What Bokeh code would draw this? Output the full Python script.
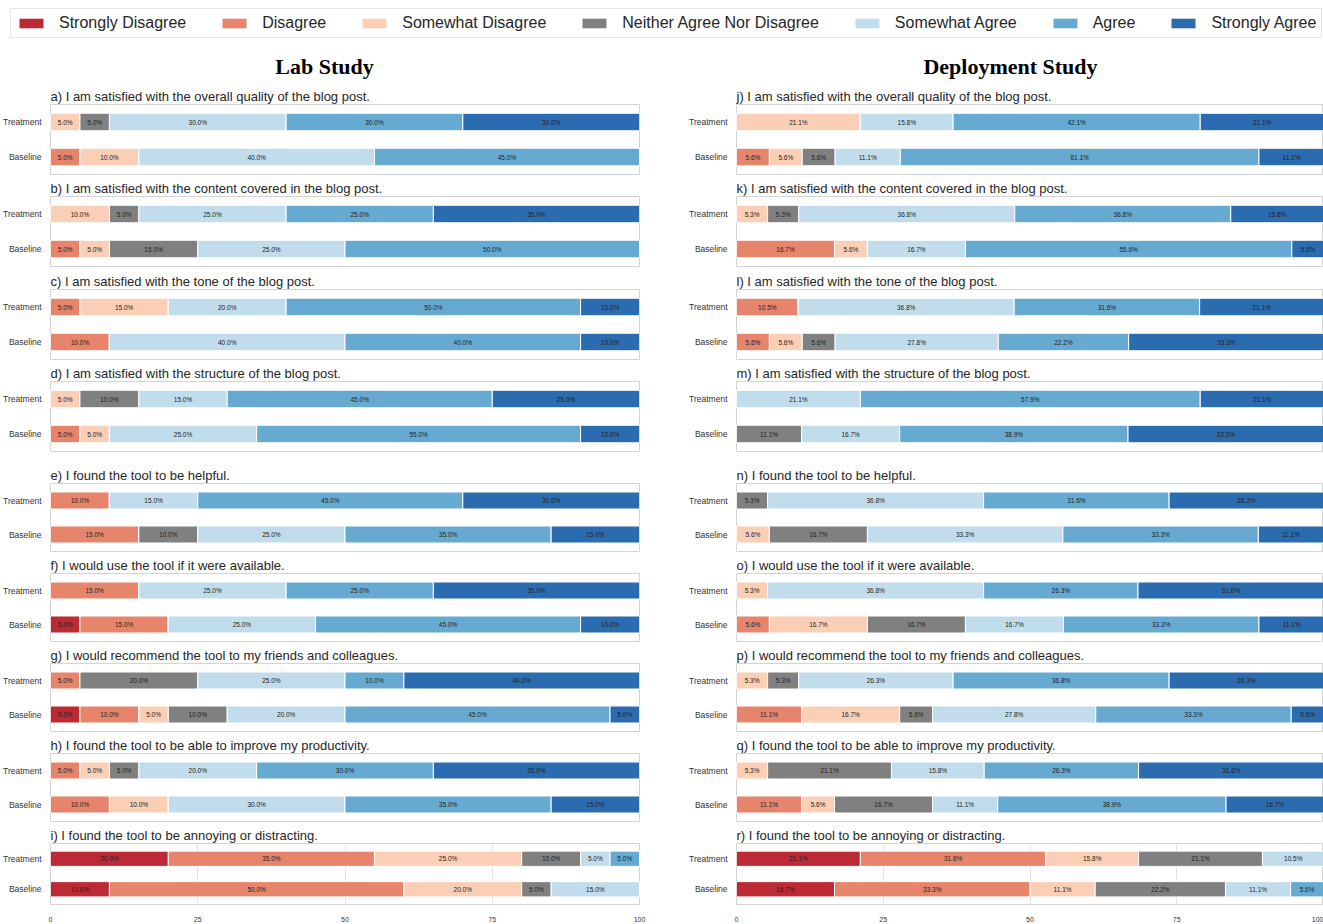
from bokeh.plotting import figure
from bokeh.models import ColumnDataSource, Range1d, FactorRange, FixedTicker, Legend, LegendItem
from bokeh.layouts import column, row
from bokeh.embed import file_html
from bokeh.resources import INLINE
from bokeh.core.properties import value

# ---------------- data ----------------
categories = ["Strongly Disagree", "Disagree", "Somewhat Disagree",
              "Neither Agree Nor Disagree", "Somewhat Agree", "Agree", "Strongly Agree"]
colors = ["#bc2a35", "#e6856b", "#fbceb6", "#808080", "#c1ddeb", "#66aad2", "#2b6cb0"]
groups = ["Treatment", "Baseline"]
x_ticks = [0, 25, 50, 75, 100]
study_titles = ["Lab Study", "Deployment Study"]

lab_questions = [
    "a) I am satisfied with the overall quality of the blog post.",
    "b) I am satisfied with the content covered in the blog post.",
    "c) I am satisfied with the tone of the blog post.",
    "d) I am satisfied with the structure of the blog post.",
    "e) I found the tool to be helpful.",
    "f) I would use the tool if it were available.",
    "g) I would recommend the tool to my friends and colleagues.",
    "h) I found the tool to be able to improve my productivity.",
    "i) I found the tool to be annoying or distracting.",
]
lab_treatment = [
    [0, 0, 5, 5, 30, 30, 30],
    [0, 0, 10, 5, 25, 25, 35],
    [0, 5, 15, 0, 20, 50, 10],
    [0, 0, 5, 10, 15, 45, 25],
    [0, 10, 0, 0, 15, 45, 30],
    [0, 15, 0, 0, 25, 25, 35],
    [0, 5, 0, 20, 25, 10, 40],
    [0, 5, 5, 5, 20, 30, 35],
    [20, 35, 25, 10, 5, 5, 0],
]
lab_baseline = [
    [0, 5, 10, 0, 40, 45, 0],
    [0, 5, 5, 15, 25, 50, 0],
    [0, 10, 0, 0, 40, 40, 10],
    [0, 5, 5, 0, 25, 55, 10],
    [0, 15, 0, 10, 25, 35, 15],
    [5, 15, 0, 0, 25, 45, 10],
    [5, 10, 5, 10, 20, 45, 5],
    [0, 10, 10, 0, 30, 35, 15],
    [10, 50, 20, 5, 15, 0, 0],
]

dep_questions = [
    "j) I am satisfied with the overall quality of the blog post.",
    "k) I am satisfied with the content covered in the blog post.",
    "l) I am satisfied with the tone of the blog post.",
    "m) I am satisfied with the structure of the blog post.",
    "n) I found the tool to be helpful.",
    "o) I would use the tool if it were available.",
    "p) I would recommend the tool to my friends and colleagues.",
    "q) I found the tool to be able to improve my productivity.",
    "r) I found the tool to be annoying or distracting.",
]
dep_treatment = [
    [0, 0, 21.1, 0, 15.8, 42.1, 21.1],
    [0, 0, 5.3, 5.3, 36.8, 36.8, 15.8],
    [0, 10.5, 0, 0, 36.8, 31.6, 21.1],
    [0, 0, 0, 0, 21.1, 57.9, 21.1],
    [0, 0, 0, 5.3, 36.8, 31.6, 26.3],
    [0, 0, 5.3, 0, 36.8, 26.3, 31.6],
    [0, 0, 5.3, 5.3, 26.3, 36.8, 26.3],
    [0, 0, 5.3, 21.1, 15.8, 26.3, 31.6],
    [21.1, 31.6, 15.8, 21.1, 10.5, 0, 0],
]
dep_baseline = [
    [0, 5.6, 5.6, 5.6, 11.1, 61.1, 11.1],
    [0, 16.7, 5.6, 0, 16.7, 55.6, 5.6],
    [0, 5.6, 5.6, 5.6, 27.8, 22.2, 33.3],
    [0, 0, 0, 11.1, 16.7, 38.9, 33.3],
    [0, 0, 5.6, 16.7, 33.3, 33.3, 11.1],
    [0, 5.6, 16.7, 16.7, 16.7, 33.3, 11.1],
    [0, 11.1, 16.7, 5.6, 27.8, 33.3, 5.6],
    [0, 11.1, 5.6, 16.7, 11.1, 38.9, 16.7],
    [16.7, 33.3, 11.1, 22.2, 11.1, 5.6, 0],
]

# ---------------- layout constants ----------------
FONT = "Liberation Sans"
TOTAL_W = 1323
HEADER_H = 84
row_heights = [92, 93, 92, 102, 90, 90, 90, 90, 101]
frame_heights = [70, 70, 70, 70, 68, 68, 68, 68, 68]
TOP = 20
LEFT_W = 668
RIGHT_W = TOTAL_W - LEFT_W
left_border_right = [23, 23, 23, 23, 29, 29, 29, 29, 29]


def make_panel(title, treat, base, width, height, bl, br, bb, axis):
    keys = [f"c{k}" for k in range(len(categories))]
    data = {"group": groups}
    for k, key in enumerate(keys):
        data[key] = [treat[k], base[k]]
    src = ColumnDataSource(data)

    p = figure(width=width, height=height, title=title,
               x_range=Range1d(0, 100),
               y_range=FactorRange(factors=["Baseline", "Treatment"]),
               x_axis_location="below" if axis else None,
               output_backend="svg", toolbar_location=None,
               min_border_left=bl, min_border_right=br,
               min_border_top=TOP, min_border_bottom=bb)
    p.hbar_stack(keys, y="group", height=0.5, fill_color=colors,
                 line_color="white", line_width=1, source=src)

    lx, ly, lt = [], [], []
    for g, vals in zip(groups, (treat, base)):
        left = 0
        for v in vals:
            if v > 0:
                lx.append(left + v / 2)
                ly.append(g)
                lt.append(f"{v:.1f}%")
            left += v
    p.text(x=lx, y=ly, text=lt, text_font=value(FONT), text_font_size="6.5px",
           text_align="center", text_baseline="middle", text_color="#222222")

    p.title.text_font = FONT
    p.title.text_font_size = "13px"
    p.title.text_font_style = "normal"
    p.title.text_color = "#262626"
    p.title.align = "left"
    p.title.standoff = 1
    p.title.offset = 0

    p.yaxis.major_label_text_font = FONT
    p.yaxis.major_label_text_font_size = "8.5px"
    p.yaxis.major_label_text_color = "#333333"
    p.yaxis.major_tick_line_color = None
    p.yaxis.minor_tick_line_color = None
    p.yaxis.axis_line_color = None
    p.yaxis.major_label_standoff = 3
    p.ygrid.visible = False
    p.xgrid.visible = axis

    if axis:
        p.xaxis.ticker = FixedTicker(ticks=x_ticks)
        p.xaxis.major_label_text_font = FONT
        p.xaxis.major_label_text_font_size = "7px"
        p.xaxis.major_label_text_color = "#333333"
        p.xaxis.major_tick_line_color = None
        p.xaxis.minor_tick_line_color = None
        p.xaxis.axis_line_color = None
        p.xaxis.major_label_standoff = 6
        p.xgrid.grid_line_color = "#e3e3e3"
        p.xgrid.grid_line_width = 1

    p.outline_line_color = "#d4d4d4"
    p.outline_line_width = 1
    p.background_fill_color = "white"
    p.border_fill_color = "white"
    return p


left_figs, right_figs = [], []
n = len(lab_questions)
for i in range(n):
    h = row_heights[i]
    bb = h - TOP - frame_heights[i]
    axis = (i == n - 1)
    left_figs.append(make_panel(lab_questions[i], lab_treatment[i], lab_baseline[i],
                                LEFT_W, h, 50, left_border_right[i], bb, axis))
    right_figs.append(make_panel(dep_questions[i], dep_treatment[i], dep_baseline[i],
                                 RIGHT_W, h, 68, 0, bb, axis))

# ---------------- header: legend + study titles ----------------
hdr = figure(width=TOTAL_W, height=HEADER_H, title=None,
             x_range=Range1d(0, TOTAL_W), y_range=Range1d(0, HEADER_H),
             x_axis_location=None, y_axis_location=None,
             output_backend="svg", toolbar_location=None, min_border=0)
hdr.outline_line_color = None
hdr.background_fill_color = "white"
hdr.grid.visible = False
items = []
for cat, col in zip(categories, colors):
    r = hdr.rect(x=[0], y=[0], width=[0], height=[0], fill_color=col, line_color=None)
    items.append(LegendItem(label=cat, renderers=[r]))
legend = Legend(items=items, orientation="horizontal", location=(10, HEADER_H - 38),
                glyph_width=30, glyph_height=12, label_standoff=13, spacing=33,
                padding=5, label_text_font=FONT, label_text_font_size="16px",
                label_text_color="#262626", border_line_color="#cccccc",
                border_line_width=1, background_fill_color="white",
                background_fill_alpha=1)
hdr.add_layout(legend, "center")

title_x = [324, 1010]
title_y = [HEADER_H - 66, HEADER_H - 66]
hdr.text(x=title_x, y=title_y, text=study_titles, text_font=value("Liberation Serif"),
         text_font_style="bold", text_font_size="22px", text_align="center",
         text_baseline="middle", text_color="black")

layout = column(hdr, row(column(*left_figs), column(*right_figs)))

open("out.html", "w").write(file_html(layout, INLINE))
